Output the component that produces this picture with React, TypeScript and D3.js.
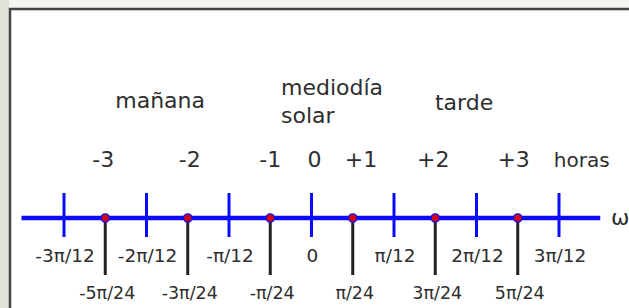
import React from 'react';
import * as d3 from 'd3';

// positions along the axis are in units of π/24
const tickUnits = [-6, -4, -2, 0, 2, 4, 6];
const tickLabels = ['-3π/12', '-2π/12', '-π/12', '0', 'π/12', '2π/12', '3π/12'];

const dotUnits = [-5, -3, -1, 1, 3, 5];
const dotLabels = ['-5π/24', '-3π/24', '-π/24', 'π/24', '3π/24', '5π/24'];

const hourLabels = ['-3', '-2', '-1', '0', '+1', '+2', '+3'];
const hourUnits = [-5.05, -2.95, -1.0, 0.07, 1.2, 2.95, 4.9];

const W = 629;
const H = 308;
const FONT = '"DejaVu Sans", Verdana, sans-serif';
const TEXT = '#2e2e2e';
const BLUE = '#0a0aff';

const App: React.FC = () => {
  const x = d3.scaleLinear().domain([-6, 6]).range([64, 559]);
  const axisY = 218;

  return (
    <div style={{ position: 'absolute', left: 0, top: 0 }}>
      <svg width={W} height={H} style={{ display: 'block' }} fontFamily={FONT}>
        {/* page background outside the frame */}
        <rect x={0} y={0} width={W} height={H} fill="#f4f4f0" />
        <rect x={0} y={0} width={9} height={H} fill="#e3e2d6" />
        <rect x={10} y={9} width={W} height={H} fill="#ffffff" stroke="#444" strokeWidth={2.5} />

        {/* headings */}
        <text x={x(-3.67)} y={108} textAnchor="middle" fontSize={22} fill={TEXT}>mañana</text>
        <text x={x(-0.74)} y={95} fontSize={22} fill={TEXT}>mediodía</text>
        <text x={x(-0.74)} y={123} fontSize={22} fill={TEXT}>solar</text>
        <text x={x(3.7)} y={110} textAnchor="middle" fontSize={22} fill={TEXT}>tarde</text>

        {/* hours */}
        {hourLabels.map((h, i) => (
          <text key={h} x={x(hourUnits[i])} y={167} textAnchor="middle" fontSize={22} fill={TEXT}>{h}</text>
        ))}
        <text x={x(6.55)} y={167} textAnchor="middle" fontSize={20} fill={TEXT}>horas</text>

        {/* axis */}
        <line x1={x(-7.03)} x2={x(7)} y1={axisY} y2={axisY} stroke={BLUE} strokeWidth={4.5} />
        <text x={611} y={225} fontSize={22} fill={TEXT}>ω</text>

        {/* full ticks */}
        {tickUnits.map((u, i) => (
          <g key={u}>
            <line x1={x(u)} x2={x(u)} y1={193} y2={237} stroke={BLUE} strokeWidth={3} />
            <text x={x(u) + 1} y={262} textAnchor="middle" fontSize={18.5} fill={TEXT}>{tickLabels[i]}</text>
          </g>
        ))}

        {/* half ticks with dots */}
        {dotUnits.map((u, i) => (
          <g key={u}>
            <line x1={x(u)} x2={x(u)} y1={axisY} y2={275} stroke="#222" strokeWidth={3} />
            <circle cx={x(u)} cy={axisY} r={4.2} fill="#d00010" stroke={BLUE} strokeWidth={1.2} />
            <text x={x(u) + 2} y={299} textAnchor="middle" fontSize={17.5} fill={TEXT}>{dotLabels[i]}</text>
          </g>
        ))}
      </svg>
    </div>
  );
};

export default App;
